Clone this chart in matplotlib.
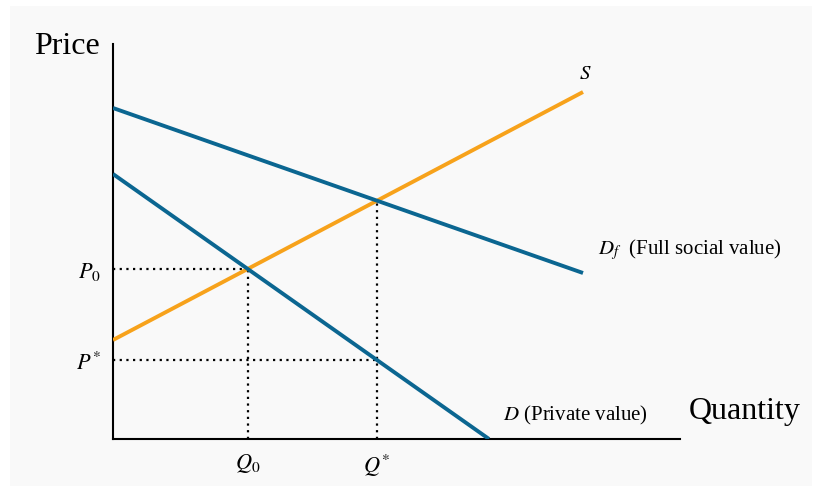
import matplotlib
matplotlib.use("Agg")
import matplotlib.pyplot as plt
from matplotlib.patches import Rectangle

plt.rcParams['font.family'] = ['Liberation Serif', 'DejaVu Serif']
plt.rcParams['mathtext.fontset'] = 'stix'

# Data (quantity, price)
supply_q = [0, 470]
supply_p = [99, 347]
full_demand_q = [0, 470]
full_demand_p = [331, 166]
private_demand_q = [0, 376]
private_demand_p = [265, 0]

Q0, P0 = 135, 170
Qstar, Pstar = 264, 79
Pstar_full = 238

xtick_labels = [r'$Q_0$', r'$Q^{*}$']
ytick_labels = [r'$P^{*}$', r'$P_0$']

blue = '#0b6691'
orange = '#f7a21b'

fig = plt.figure(figsize=(8.14, 4.89), dpi=100, facecolor='white')
bg = Rectangle((10/814, 2/489), 802/814, 480/489, transform=fig.transFigure,
               facecolor='#f9f9f9', edgecolor='none', zorder=-10)
fig.add_artist(bg)

ax = fig.add_axes([113/814, (489-440)/489, (680-113)/814, (440-45)/489])
ax.set_zorder(5)
ax.set_facecolor('none')
ax.set_xlim(0, 567)
ax.set_ylim(0, 395)
for s in ['top', 'right']:
    ax.spines[s].set_visible(False)
for s in ['left', 'bottom']:
    ax.spines[s].set_linewidth(1.5)
    ax.spines[s].set_color('black')

dot = (0, (1, 2))
ax.plot([0, Q0], [P0, P0], color='black', lw=1.6, ls=dot, zorder=1)
ax.plot([Q0, Q0], [0, P0], color='black', lw=1.6, ls=dot, zorder=1)
ax.plot([0, Qstar], [Pstar, Pstar], color='black', lw=1.6, ls=dot, zorder=1)
ax.plot([Qstar, Qstar], [0, Pstar_full], color='black', lw=1.6, ls=dot, zorder=1)

ax.plot(supply_q, supply_p, color=orange, lw=2.8, solid_capstyle='butt', zorder=3)
ax.plot(full_demand_q, full_demand_p, color=blue, lw=2.8, solid_capstyle='butt', zorder=3)
ax.plot(private_demand_q, private_demand_p, color=blue, lw=2.8, solid_capstyle='butt', zorder=3)

ax.set_xticks([Q0, Qstar])
ax.set_xticklabels(xtick_labels, fontsize=16)
ax.set_yticks([Pstar, P0])
ax.set_yticklabels(ytick_labels, fontsize=16)
ax.tick_params(length=0, pad=9)

ax.text(-13, 393, 'Price', fontsize=23, ha='right', va='center')
ax.text(576, 28, 'Quantity', fontsize=23, ha='left', va='center')
ax.text(472, 365, r'$S$', fontsize=15, ha='center', va='center')
ax.text(485, 190, r'$D_f$  (Full social value)', fontsize=15, ha='left', va='center')
ax.text(390, 25, r'$D$ (Private value)', fontsize=15, ha='left', va='center')

fig.savefig('out.png', dpi=100, facecolor='white')
